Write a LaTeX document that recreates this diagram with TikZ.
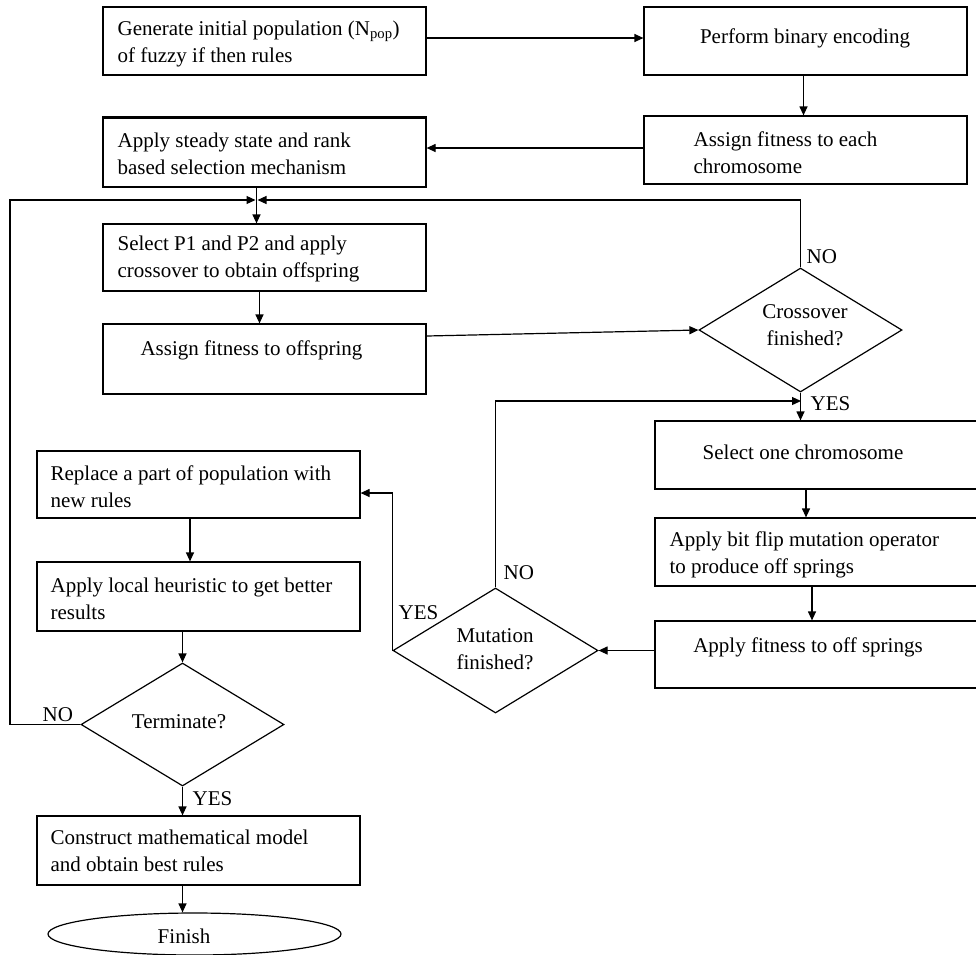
\documentclass[tikz,border=0pt]{standalone}
\usepackage{fontspec}
\setmainfont{Liberation Serif}
\usetikzlibrary{shapes.geometric,arrows.meta}
\begin{document}
\begin{tikzpicture}[x=1pt,y=-1pt,
  line width=1.2pt,
  box/.style={draw, rectangle, minimum width=323pt, inner sep=0pt},
  dia/.style={draw, diamond, inner sep=0pt},
  txt/.style={font=\fontsize{21}{27}\selectfont, inner sep=0pt, align=left},
  ctxt/.style={font=\fontsize{21}{27}\selectfont, inner sep=0pt, align=center},
  lbl/.style={font=\fontsize{21}{27}\selectfont, inner sep=0pt, anchor=west},
  arr/.style={-{Triangle[length=9pt,width=8pt]}},
]
\fill[white] (0,0) rectangle (976,954);
\useasboundingbox (0,0) rectangle (976,954);

% boxes
\node[box, minimum height=68pt] (b1) at (264.5,41) {};
\node[box, minimum height=68pt] (b2) at (805.5,41) {};
\node[box, minimum height=68pt] (b3) at (805.5,150) {};
\node[box, minimum height=69pt] (b4) at (264.5,152.5) {};
\node[box, minimum height=67pt] (b5) at (264.5,257.5) {};
\node[box, minimum height=70pt] (b6) at (264.5,359) {};
\node[box, minimum height=68pt] (b7) at (816.5,455) {};
\node[box, minimum height=68pt] (b8) at (816.5,552) {};
\node[box, minimum height=67pt] (b9) at (816.5,654.5) {};
\node[box, minimum height=67pt] (b10) at (198.5,484.5) {};
\node[box, minimum height=69pt] (b11) at (198.5,596.5) {};
\node[box, minimum height=69pt] (b12) at (198.5,850.5) {};
\node[draw, ellipse, minimum width=293pt, minimum height=42pt, inner sep=0pt] (fin) at (194.5,934) {};
\node[dia, minimum width=203pt, minimum height=124pt] (d1) at (800.5,330) {};
\node[dia, minimum width=205pt, minimum height=125pt] (d2) at (495.5,650.5) {};
\node[dia, minimum width=203pt, minimum height=123pt] (d3) at (182.5,724.5) {};
\draw[line width=2.4pt] (b4.north west) -- (b4.north east);

% texts
\node[txt, anchor=west] (t1) at (117,43.5) {Generate initial population (N\textsubscript{pop})\\of fuzzy if then rules};
\node[ctxt] (t2) at (805,38.3) {Perform binary encoding};
\node[txt, anchor=west] (t3) at (693,152.5) {Assign fitness to each\\chromosome};
\node[txt, anchor=west] (t4) at (117,154) {Apply steady state and rank\\based selection mechanism};
\node[txt, anchor=west] (t5) at (117,258.5) {Select P1 and P2 and apply\\crossover to obtain offspring};
\node[ctxt] (t6) at (251.5,350) {Assign fitness to offspring};
\node[ctxt] (t7) at (803,452) {Select one chromosome};
\node[txt, anchor=west] (t8) at (669,554.5) {Apply bit flip mutation operator\\to produce off springs};
\node[ctxt] (t9) at (808,647) {Apply fitness to off springs};
\node[txt, anchor=west] (t10) at (50,487) {Replace a part of population with\\new rules};
\node[txt, anchor=west] (t11) at (50,598.5) {Apply local heuristic to get better\\results};
\node[txt, anchor=west] (t12) at (50,850.5) {Construct mathematical model\\and obtain best rules};
\node[ctxt] (tf) at (184,936) {Finish};
\node[ctxt] (td1) at (805,325.5) {Crossover\\finished?};
\node[ctxt] (td2) at (495,649.5) {Mutation\\finished?};
\node[ctxt] (td3) at (179,722) {Terminate?};

% labels
\node[lbl] (no1) at (806,257) {NO};
\node[lbl] (yes1) at (810,404) {YES};
\node[lbl] (no2) at (503,573) {NO};
\node[lbl] (yes2) at (398,613) {YES};
\node[lbl] (no3) at (42,715) {NO};
\node[lbl] (yes3) at (192,799) {YES};

% connectors
\coordinate (j) at (256.5,200);
\coordinate (lx) at (10,200);
\coordinate (m) at (801,401);
\draw[arr] ([yshift=3pt]b1.east) -- ([yshift=3pt]b2.west);
\draw[arr] ([xshift=-2pt]b2.south) -- ([xshift=-2pt]b3.north);
\draw[arr] ([yshift=2pt]b3.west) -- ([yshift=2pt]b3.west -| b4.east);
\draw[arr] (b4.south -| j) -- (b5.north -| j);
\draw[arr] (d3.west) -| (lx) -- ([xshift=-1pt]j);
\draw[arr] (d1.north) |- ([xshift=1pt]j);
\draw[arr] ([xshift=-5pt]b5.south) -- ([xshift=-5pt]b6.north);
\draw[arr] ([yshift=23pt]b6.east) -- (d1.west);
\draw[arr] (d1.south) -- (d1.south |- b7.north);
\draw[arr] ([xshift=-10.5pt]b7.south) -- ([xshift=-10.5pt]b8.north);
\draw[arr] ([xshift=-4.5pt]b8.south) -- ([xshift=-4.5pt]b9.north);
\draw[arr] (d2.east -| b9.west) -- (d2.east);
\draw[arr] (d2.north) |- (m);
\draw[arr] (d2.west) |- ([yshift=-8.5pt]b10.east);
\draw[arr] ([xshift=-8.5pt]b10.south) -- ([xshift=-8.5pt]b11.north);
\draw[arr] (b11.south -| d3.north) -- (d3.north);
\draw[arr] (d3.south) -- (d3.south |- b12.north);
\draw[arr] (b12.south -| d3.south) -- (d3.south |- fin.north);
\end{tikzpicture}
\end{document}
